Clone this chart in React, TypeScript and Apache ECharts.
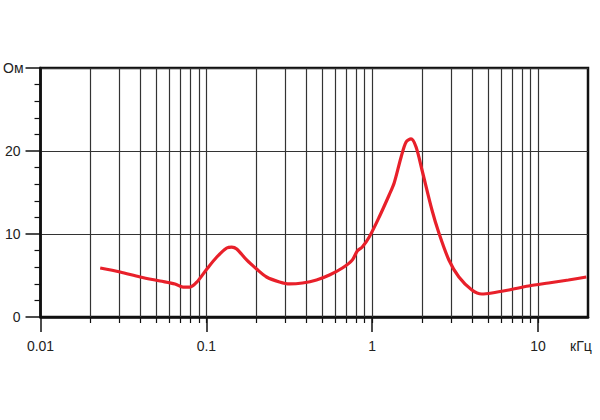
import React, { useEffect, useRef } from "react";
import * as echarts from "echarts";

const freqKHz = [
  0.0229, 0.0302, 0.0399, 0.0526, 0.0647, 0.0723, 0.0796, 0.0877, 0.1007, 0.1156,
  0.1327, 0.1422, 0.1524, 0.1749, 0.2009, 0.2306, 0.2759, 0.3175, 0.3801, 0.4613,
  0.5522, 0.6607, 0.7586, 0.8128, 0.871, 0.9594, 1.102, 1.265, 1.356, 1.494,
  1.601, 1.715, 1.838, 1.996, 2.292, 2.524, 2.899, 3.331, 3.99, 4.581,
  5.26, 6.653, 8.77, 11.56, 15.24, 19.55,
];
const impedanceOhm = [
  5.9, 5.42, 4.82, 4.34, 3.98, 3.61, 3.61, 4.22, 5.78, 7.23,
  8.31, 8.43, 8.19, 6.87, 5.78, 4.82, 4.22, 3.98, 4.1, 4.46,
  5.06, 5.9, 6.87, 7.95, 8.43, 9.64, 12.05, 14.7, 16.14, 19.28,
  21.08, 21.45, 20.48, 17.71, 12.89, 10.12, 6.87, 4.82, 3.25, 2.77,
  2.89, 3.25, 3.73, 4.1, 4.46, 4.82,
];
const majorFreqTicks = [0.01, 0.1, 1, 10];
const xLabelValues = [0.01, 0.1, 1, 10];
const xUnitValue = [20];
const yLabelValues = [0, 10, 20];
const yUnitValue = [30];
const gridFreqs = [
  0.02, 0.03, 0.04, 0.05, 0.06, 0.07, 0.08, 0.09, 0.1,
  0.2, 0.3, 0.4, 0.5, 0.6, 0.7, 0.8, 0.9, 1,
  2, 3, 4, 5, 6, 7, 8, 9, 10,
];
const xUnit = "кГц";
const yUnit = "Ом";

export default function App() {
  const ref = useRef<HTMLDivElement>(null);
  useEffect(() => {
    if (!ref.current) return;
    const chart = echarts.init(ref.current, undefined, { renderer: "svg" });
    const font = { fontFamily: "Liberation Sans, Arial, sans-serif", fontSize: 14, color: "#222" };
    const fmtX = (v: number) => {
      if (Math.abs(v - 0.01) < 1e-6) return "0.01";
      if (Math.abs(v - 0.1) < 1e-6) return "0.1";
      return String(Math.round(v));
    };
    const logX = { type: "log", logBase: 10, min: 0.01, max: 20, position: "bottom" };
    const valY = { type: "value", min: 0, max: 30, interval: 10, position: "left" };
    chart.setOption({
      animation: false,
      grid: {
        left: 40, right: 12, top: 68, bottom: 103,
        show: true, borderColor: "#111", borderWidth: 2.5, backgroundColor: "transparent",
      },
      xAxis: [
        {
          ...logX,
          axisLine: { show: true, lineStyle: { color: "#111", width: 2.5 } },
          axisTick: { show: true, customValues: majorFreqTicks, length: 15, lineStyle: { color: "#111", width: 1.5 } },
          axisLabel: { show: true, customValues: xLabelValues, formatter: fmtX, margin: 22, ...font },
          splitLine: { show: false },
        },
        {
          ...logX,
          axisLine: { show: false },
          axisTick: { show: true, customValues: gridFreqs, length: 6, lineStyle: { color: "#111", width: 1.2 } },
          axisLabel: { show: false },
          splitLine: { show: false },
        },
        {
          ...logX,
          axisLine: { show: false },
          axisTick: { show: false },
          axisLabel: {
            show: true, customValues: xUnitValue, margin: 22, ...font,
            formatter: () => "{u|" + xUnit + "}",
            rich: { u: { ...font, width: 36, align: "left" } },
          },
          splitLine: { show: false },
        },
      ],
      yAxis: [
        {
          ...valY,
          axisLine: { show: true, lineStyle: { color: "#111", width: 2.5 } },
          axisTick: { show: true, length: 15, lineStyle: { color: "#111", width: 1.5 } },
          minorTick: { show: true, splitNumber: 5, length: 6, lineStyle: { color: "#111", width: 1.2 } },
          axisLabel: { customValues: yLabelValues, margin: 20, ...font },
          splitLine: { show: true, lineStyle: { color: "#333", width: 1.2 } },
        },
        {
          ...valY,
          axisLine: { show: false },
          axisTick: { show: false },
          axisLabel: { customValues: yUnitValue, formatter: () => yUnit, margin: 17, ...font },
          splitLine: { show: false },
        },
      ],
      series: [
        {
          type: "line", data: [], z: 1, xAxisIndex: 0, yAxisIndex: 0,
          markLine: {
            silent: true, symbol: ["none", "none"], label: { show: false },
            lineStyle: { type: "solid", color: "#333", width: 1.2 },
            data: gridFreqs.map((v) => ({ xAxis: v })),
          },
        },
        {
          type: "line", z: 5, xAxisIndex: 0, yAxisIndex: 0,
          data: freqKHz.map((f, i) => [f, impedanceOhm[i]]),
          showSymbol: false, smooth: 0.3,
          lineStyle: { color: "#e8202a", width: 3.2 },
        },
      ],
    });
    return () => chart.dispose();
  }, []);
  return (
    <div
      ref={ref}
      style={{ position: "absolute", left: 0, top: 0, width: 600, height: 420, background: "#fff" }}
    />
  );
}
